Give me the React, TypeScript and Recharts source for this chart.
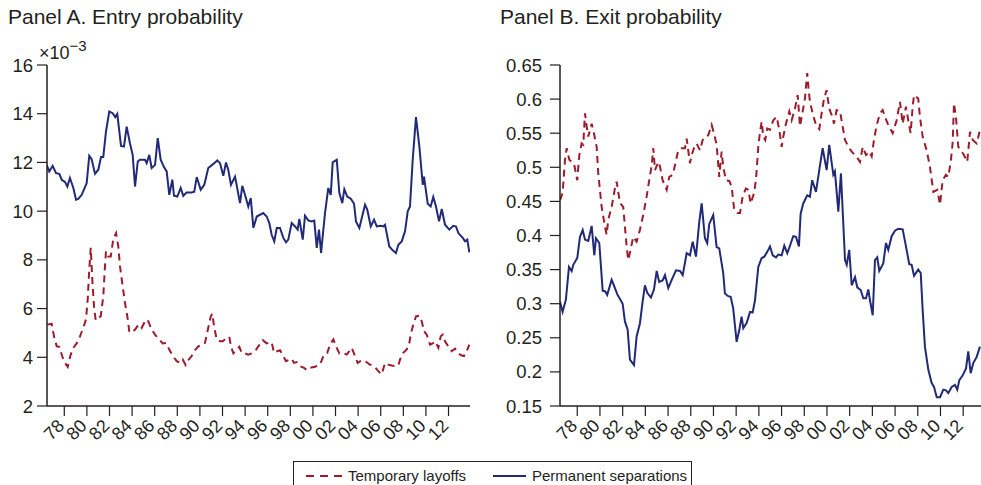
import React from "react"
import { Line, LineChart, XAxis, YAxis } from "recharts"

// year ticks shared by both panels
const yearTicks = [1978, 1980, 1982, 1984, 1986, 1988, 1990, 1992, 1994, 1996, 1998, 2000, 2002, 2004, 2006, 2008, 2010, 2012]
const entryTicks = [2, 4, 6, 8, 10, 12, 14, 16]
const exitTicks = [0.15, 0.2, 0.25, 0.3, 0.35, 0.4, 0.45, 0.5, 0.55, 0.6, 0.65]

// Panel A, entry probability (x 10^-3): [year, value]
const entryPermanent: [number, number][] = [
    [1976.44, 11.9], [1976.67, 11.63], [1976.97, 11.86], [1977.27, 11.56], [1977.56, 11.53], [1977.77, 11.29],
    [1978.06, 11.2], [1978.27, 11.01], [1978.5, 11.36], [1978.8, 10.95], [1979.04, 10.47], [1979.24, 10.5],
    [1979.54, 10.67], [1979.98, 11.15], [1980.21, 12.27], [1980.42, 12.13], [1980.72, 11.53], [1981.01, 11.7],
    [1981.25, 12.22], [1981.45, 12.22], [1981.69, 13.27], [1981.98, 14.09], [1982.28, 14.02], [1982.51, 13.86],
    [1982.69, 13.99], [1983.02, 12.68], [1983.28, 12.65], [1983.52, 13.47], [1983.81, 12.79], [1984.05, 12.31],
    [1984.26, 11.01], [1984.5, 12.04], [1984.7, 12.11], [1985.14, 12.11], [1985.29, 11.97], [1985.52, 12.31],
    [1985.73, 11.77], [1986.03, 11.9], [1986.27, 13.0], [1986.53, 12.11], [1986.82, 11.81], [1987.06, 11.63],
    [1987.29, 10.67], [1987.56, 11.29], [1987.71, 10.63], [1988.0, 10.6], [1988.3, 10.95], [1988.53, 10.63],
    [1988.83, 10.77], [1989.27, 10.77], [1989.5, 10.8], [1989.72, 11.4], [1990.07, 10.88], [1990.39, 11.08],
    [1990.74, 11.77], [1991.19, 11.94], [1991.54, 12.08], [1991.78, 11.97], [1992.07, 11.45], [1992.31, 12.0],
    [1992.51, 11.7], [1992.75, 11.08], [1993.11, 11.42], [1993.55, 10.33], [1993.75, 11.04], [1993.99, 10.67],
    [1994.28, 10.19], [1994.5, 10.54], [1994.73, 9.31], [1995.03, 9.78], [1995.61, 9.92], [1995.91, 9.78],
    [1996.14, 9.51], [1996.35, 9.03], [1996.58, 8.76], [1996.8, 9.31], [1997.09, 9.31], [1997.38, 8.9],
    [1997.62, 8.72], [1997.82, 8.83], [1998.12, 9.51], [1998.42, 9.37], [1998.65, 9.24], [1998.8, 9.68],
    [1999.1, 8.83], [1999.3, 9.81], [1999.59, 9.62], [1999.89, 9.58], [2000.12, 9.61], [2000.34, 8.49],
    [2000.54, 9.24], [2000.72, 8.28], [2001.07, 9.92], [2001.36, 10.95], [2001.58, 10.67], [2001.75, 12.0],
    [2002.11, 12.11], [2002.34, 10.74], [2002.6, 10.33], [2002.78, 10.9], [2003.04, 10.6], [2003.37, 10.5],
    [2003.64, 10.3], [2003.81, 9.58], [2004.11, 9.31], [2004.61, 10.26], [2004.81, 10.06], [2005.12, 9.37],
    [2005.41, 9.65], [2005.65, 9.37], [2006.0, 9.4], [2006.23, 9.37], [2006.38, 9.44], [2006.76, 8.55],
    [2007.06, 8.39], [2007.35, 8.28], [2007.56, 8.62], [2007.86, 8.76], [2008.15, 9.17], [2008.39, 9.99],
    [2008.59, 10.19], [2008.83, 12.11], [2009.12, 13.86], [2009.42, 12.65], [2009.72, 11.08], [2009.83, 11.42],
    [2010.16, 10.3], [2010.42, 10.19], [2010.65, 10.58], [2010.89, 10.19], [2011.16, 9.58], [2011.4, 10.09],
    [2011.69, 9.44], [2012.07, 9.24], [2012.42, 9.4], [2012.66, 9.37], [2012.87, 9.1], [2013.26, 8.9],
    [2013.46, 8.76], [2013.66, 8.83], [2013.84, 8.31],
]

const entryTemporary: [number, number][] = [
    [1976.5, 5.34], [1976.88, 5.38], [1977.09, 4.86], [1977.33, 4.45], [1977.56, 4.43], [1977.86, 3.98],
    [1978.06, 3.77], [1978.3, 3.61], [1978.57, 4.11], [1978.8, 4.39], [1979.1, 4.57], [1979.39, 4.86],
    [1979.68, 5.21], [1979.92, 5.55], [1980.07, 6.37], [1980.21, 7.6], [1980.34, 8.49], [1980.48, 7.19],
    [1980.63, 6.09], [1980.78, 5.52], [1981.01, 5.62], [1981.22, 5.68], [1981.45, 6.5], [1981.6, 7.73],
    [1981.69, 8.35], [1981.89, 8.14], [1982.11, 8.14], [1982.34, 8.86], [1982.58, 9.1], [1982.78, 8.55],
    [1982.93, 7.73], [1983.17, 6.91], [1983.37, 6.23], [1983.58, 5.68], [1983.75, 5.07], [1983.96, 5.0],
    [1984.26, 5.14], [1984.46, 5.27], [1984.7, 5.34], [1984.85, 5.21], [1985.23, 5.55], [1985.43, 5.48],
    [1985.73, 5.14], [1986.03, 4.93], [1986.41, 4.73], [1986.71, 4.57], [1987.0, 4.59], [1987.29, 4.32],
    [1987.59, 4.07], [1987.95, 3.84], [1988.24, 3.77], [1988.48, 3.91], [1988.74, 3.68], [1988.97, 3.88],
    [1989.27, 4.05], [1989.48, 4.25], [1989.86, 4.45], [1990.16, 4.5], [1990.45, 4.59], [1990.74, 5.21],
    [1990.96, 5.68], [1991.1, 5.79], [1991.25, 5.27], [1991.49, 4.73], [1991.78, 4.66], [1992.02, 4.66],
    [1992.37, 4.8], [1992.6, 4.84], [1992.75, 4.45], [1992.96, 4.16], [1993.26, 4.32], [1993.49, 4.43],
    [1993.7, 4.18], [1993.99, 4.16], [1994.28, 4.11], [1994.58, 4.16], [1994.88, 4.25], [1995.17, 4.45],
    [1995.56, 4.7], [1995.91, 4.57], [1996.35, 4.62], [1996.56, 4.18], [1996.85, 4.25], [1997.09, 4.29],
    [1997.38, 4.05], [1997.62, 3.84], [1998.12, 3.94], [1998.33, 3.77], [1998.57, 3.8], [1998.8, 3.64],
    [1999.21, 3.57], [1999.45, 3.47], [1999.74, 3.57], [2000.19, 3.61], [2000.63, 3.7], [2000.98, 4.11],
    [2001.27, 4.18], [2001.51, 4.52], [2001.81, 4.73], [2002.04, 4.45], [2002.34, 4.16], [2002.69, 4.18],
    [2002.99, 4.11], [2003.22, 4.25], [2003.43, 4.39], [2003.73, 4.05], [2003.96, 3.77], [2004.32, 3.88],
    [2004.61, 3.84], [2005.05, 3.7], [2005.41, 3.64], [2005.79, 3.43], [2006.09, 3.3], [2006.38, 3.77],
    [2006.67, 3.7], [2006.97, 3.66], [2007.27, 3.64], [2007.56, 3.66], [2007.71, 3.91], [2008.0, 4.18],
    [2008.3, 4.32], [2008.53, 4.59], [2008.68, 5.0], [2008.89, 5.34], [2009.12, 5.68], [2009.42, 5.71],
    [2009.63, 5.48], [2009.83, 5.07], [2010.07, 4.93], [2010.36, 4.52], [2010.6, 4.57], [2010.81, 4.66],
    [2011.1, 4.39], [2011.31, 4.86], [2011.49, 4.93], [2011.69, 4.66], [2011.98, 4.45], [2012.28, 4.25],
    [2012.58, 4.35], [2012.87, 4.16], [2013.17, 4.07], [2013.37, 4.05], [2013.61, 4.25], [2013.84, 4.52],
]

// Panel B, exit probability: [year, value]
const exitPermanent: [number, number][] = [
    [1976.48, 0.303], [1976.71, 0.288], [1977.0, 0.306], [1977.27, 0.354], [1977.51, 0.348], [1977.65, 0.357],
    [1978.0, 0.367], [1978.24, 0.398], [1978.48, 0.408], [1978.68, 0.394], [1978.97, 0.392], [1979.27, 0.414],
    [1979.5, 0.371], [1979.65, 0.396], [1979.94, 0.389], [1980.24, 0.319], [1980.47, 0.318], [1980.64, 0.313],
    [1981.03, 0.335], [1981.23, 0.327], [1981.52, 0.314], [1982.0, 0.3], [1982.2, 0.274], [1982.44, 0.262],
    [1982.64, 0.218], [1983.0, 0.21], [1983.23, 0.252], [1983.52, 0.271], [1983.76, 0.303], [1983.96, 0.327],
    [1984.17, 0.316], [1984.49, 0.309], [1984.76, 0.321], [1985.0, 0.348], [1985.22, 0.332], [1985.52, 0.334],
    [1985.73, 0.342], [1986.02, 0.323], [1986.32, 0.335], [1986.7, 0.349], [1987.05, 0.348], [1987.29, 0.342],
    [1987.64, 0.374], [1987.93, 0.371], [1988.17, 0.391], [1988.46, 0.369], [1988.75, 0.42], [1988.96, 0.447],
    [1989.25, 0.396], [1989.45, 0.389], [1989.63, 0.417], [1989.98, 0.43], [1990.28, 0.383], [1990.51, 0.381],
    [1990.86, 0.345], [1991.01, 0.315], [1991.3, 0.311], [1991.52, 0.31], [1991.74, 0.293], [1992.04, 0.244],
    [1992.27, 0.261], [1992.48, 0.281], [1992.63, 0.264], [1992.93, 0.272], [1993.22, 0.288], [1993.45, 0.287],
    [1993.66, 0.305], [1993.95, 0.354], [1994.25, 0.367], [1994.48, 0.369], [1994.74, 0.376], [1994.98, 0.384],
    [1995.22, 0.371], [1995.51, 0.368], [1995.71, 0.372], [1996.01, 0.371], [1996.24, 0.385], [1996.5, 0.374],
    [1996.74, 0.385], [1997.03, 0.399], [1997.27, 0.398], [1997.53, 0.384], [1997.68, 0.432], [1997.91, 0.447],
    [1998.26, 0.459], [1998.5, 0.457], [1998.7, 0.481], [1999.03, 0.464], [1999.32, 0.496], [1999.62, 0.528],
    [1999.97, 0.496], [2000.2, 0.533], [2000.56, 0.489], [2000.7, 0.494], [2001.0, 0.435], [2001.23, 0.491],
    [2001.59, 0.364], [2001.74, 0.357], [2001.96, 0.379], [2002.18, 0.327], [2002.47, 0.339], [2002.67, 0.324],
    [2002.97, 0.32], [2003.2, 0.308], [2003.44, 0.308], [2003.64, 0.321], [2003.79, 0.305], [2004.03, 0.283],
    [2004.23, 0.364], [2004.43, 0.368], [2004.61, 0.348], [2004.96, 0.359], [2005.2, 0.389], [2005.4, 0.379],
    [2005.7, 0.399], [2005.99, 0.407], [2006.28, 0.41], [2006.67, 0.409], [2006.96, 0.384], [2007.25, 0.358],
    [2007.46, 0.357], [2007.67, 0.341], [2008.04, 0.35], [2008.26, 0.345], [2008.43, 0.291], [2008.63, 0.237],
    [2008.93, 0.203], [2009.22, 0.184], [2009.43, 0.178], [2009.67, 0.163], [2009.96, 0.163], [2010.25, 0.174],
    [2010.48, 0.173], [2010.69, 0.169], [2010.99, 0.178], [2011.28, 0.181], [2011.48, 0.174], [2011.66, 0.188],
    [2011.96, 0.195], [2012.25, 0.205], [2012.45, 0.23], [2012.66, 0.198], [2012.89, 0.213], [2013.19, 0.222],
    [2013.48, 0.237],
]

const exitTemporary: [number, number][] = [
    [1976.48, 0.452], [1976.71, 0.462], [1976.92, 0.511], [1977.07, 0.528], [1977.3, 0.511], [1977.51, 0.508],
    [1977.71, 0.506], [1978.0, 0.481], [1978.18, 0.518], [1978.39, 0.535], [1978.53, 0.533], [1978.68, 0.579],
    [1978.83, 0.56], [1978.97, 0.545], [1979.27, 0.564], [1979.47, 0.55], [1979.71, 0.53], [1979.85, 0.491],
    [1980.15, 0.442], [1980.44, 0.413], [1980.59, 0.401], [1980.73, 0.423], [1981.03, 0.442], [1981.32, 0.469],
    [1981.47, 0.479], [1981.76, 0.448], [1982.05, 0.442], [1982.2, 0.413], [1982.35, 0.384], [1982.49, 0.364],
    [1982.7, 0.379], [1982.93, 0.398], [1983.23, 0.391], [1983.52, 0.408], [1983.81, 0.43], [1984.11, 0.457],
    [1984.34, 0.481], [1984.56, 0.503], [1984.7, 0.528], [1984.85, 0.496], [1985.14, 0.508], [1985.29, 0.501],
    [1985.52, 0.481], [1985.88, 0.467], [1986.11, 0.486], [1986.41, 0.489], [1986.61, 0.503], [1986.9, 0.525],
    [1987.2, 0.528], [1987.49, 0.528], [1987.64, 0.542], [1987.93, 0.506], [1988.08, 0.518], [1988.28, 0.528],
    [1988.52, 0.535], [1988.81, 0.525], [1989.05, 0.54], [1989.25, 0.545], [1989.54, 0.547], [1989.84, 0.562],
    [1990.04, 0.55], [1990.28, 0.533], [1990.51, 0.486], [1990.72, 0.523], [1990.86, 0.501], [1991.1, 0.481],
    [1991.39, 0.48], [1991.6, 0.472], [1991.81, 0.44], [1992.1, 0.433], [1992.34, 0.433], [1992.57, 0.457],
    [1992.86, 0.469], [1993.07, 0.467], [1993.28, 0.447], [1993.57, 0.462], [1993.74, 0.481], [1993.95, 0.53],
    [1994.1, 0.552], [1994.25, 0.567], [1994.39, 0.545], [1994.56, 0.54], [1994.74, 0.557], [1994.98, 0.555],
    [1995.27, 0.569], [1995.57, 0.574], [1995.8, 0.555], [1996.01, 0.53], [1996.15, 0.545], [1996.39, 0.564],
    [1996.68, 0.582], [1996.89, 0.569], [1997.18, 0.586], [1997.42, 0.606], [1997.62, 0.56], [1997.86, 0.582],
    [1998.06, 0.601], [1998.26, 0.638], [1998.39, 0.613], [1998.5, 0.596], [1998.74, 0.579], [1999.03, 0.562],
    [1999.32, 0.556], [1999.53, 0.579], [1999.74, 0.601], [1999.97, 0.613], [2000.2, 0.586], [2000.41, 0.577],
    [2000.62, 0.564], [2000.85, 0.584], [2001.15, 0.582], [2001.38, 0.56], [2001.59, 0.54], [2001.88, 0.53],
    [2002.18, 0.523], [2002.62, 0.515], [2002.91, 0.508], [2003.15, 0.53], [2003.44, 0.518], [2003.73, 0.523],
    [2003.94, 0.516], [2004.14, 0.54], [2004.38, 0.562], [2004.67, 0.579], [2004.91, 0.584], [2005.11, 0.574],
    [2005.4, 0.562], [2005.79, 0.55], [2006.14, 0.569], [2006.43, 0.596], [2006.67, 0.564], [2006.96, 0.589],
    [2007.16, 0.569], [2007.37, 0.55], [2007.55, 0.589], [2007.67, 0.606], [2008.04, 0.601], [2008.19, 0.574],
    [2008.43, 0.545], [2008.78, 0.525], [2009.07, 0.501], [2009.37, 0.464], [2009.72, 0.467], [2009.96, 0.445],
    [2010.19, 0.481], [2010.48, 0.489], [2010.69, 0.486], [2010.9, 0.508], [2011.07, 0.535], [2011.19, 0.594],
    [2011.37, 0.572], [2011.57, 0.53], [2011.78, 0.525], [2012.07, 0.518], [2012.36, 0.508], [2012.6, 0.552],
    [2012.84, 0.54], [2013.19, 0.535], [2013.48, 0.555],
]

const RED = "#9e1b2c"
const NAVY = "#222a78"
const INK = "#231f20"
const FONT = "'Liberation Sans', Arial, Helvetica, sans-serif"

const toRows = (pairs: [number, number][]) => pairs.map(([year, v]) => ({ year, v }))

const yearLabel = (y: number) => String(y % 100).padStart(2, "0")

function YearTick({ x, y, payload }: any) {
    return (
        <g transform={`translate(${x + 1},${y + 9})`}>
            <text x={0} y={0} textAnchor="end" transform="rotate(-45)" fill={INK} fontSize={18} fontFamily={FONT}>
                {yearLabel(payload.value)}
            </text>
        </g>
    )
}

type PanelProps = {
    left: number
    width: number
    yWidth: number
    rightPad: number
    xDomain: [number, number]
    yDomain: [number, number]
    yTicks: number[]
    tickMargin: number
    temporary: [number, number][]
    permanent: [number, number][]
}

function Panel({ left, width, yWidth, rightPad, xDomain, yDomain, yTicks, tickMargin, temporary, permanent }: PanelProps) {
    return (
        <div style={{ position: "absolute", left, top: 0 }}>
            <LineChart width={width} height={485} margin={{ top: 65, right: rightPad, bottom: 0, left: 0 }}>
                <XAxis
                    dataKey="year"
                    type="number"
                    domain={xDomain}
                    allowDataOverflow
                    ticks={yearTicks}
                    interval={0}
                    height={79}
                    tickSize={10}
                    tick={<YearTick />}
                    axisLine={{ stroke: INK, strokeWidth: 1.5 }}
                    tickLine={{ stroke: INK, strokeWidth: 1.2 }}
                />
                <YAxis
                    type="number"
                    domain={yDomain}
                    ticks={yTicks}
                    interval={0}
                    width={yWidth}
                    tickSize={10}
                    tickMargin={tickMargin}
                    tickFormatter={(v: number) => String(v)}
                    tick={{ fill: INK, fontSize: 18.5, fontFamily: FONT }}
                    axisLine={{ stroke: INK, strokeWidth: 1.5 }}
                    tickLine={{ stroke: INK, strokeWidth: 1.2 }}
                />
                <Line
                    data={toRows(permanent)}
                    dataKey="v"
                    type="linear"
                    stroke={NAVY}
                    strokeWidth={2}
                    dot={false}
                    isAnimationActive={false}
                />
                <Line
                    data={toRows(temporary)}
                    dataKey="v"
                    type="linear"
                    stroke={RED}
                    strokeWidth={2}
                    strokeDasharray="7 5"
                    dot={false}
                    isAnimationActive={false}
                />
            </LineChart>
        </div>
    )
}

export default function App() {
    return (
        <div style={{ position: "absolute", left: 0, top: 0, width: 981, height: 485, background: "#fff", overflow: "hidden", fontFamily: FONT, color: INK }}>
            <div style={{ position: "absolute", left: 8, top: 5, fontSize: 21, whiteSpace: "nowrap" }}>Panel A. Entry probability</div>
            <div style={{ position: "absolute", left: 500, top: 5, fontSize: 21, whiteSpace: "nowrap" }}>Panel B. Exit probability</div>
            <div style={{ position: "absolute", left: 39, top: 38, fontSize: 18, whiteSpace: "nowrap" }}>
                ×10<sup style={{ fontSize: 15, position: "relative", top: -1 }}>−3</sup>
            </div>

            <Panel
                left={0}
                width={490}
                yWidth={47}
                rightPad={20}
                xDomain={[1976.47, 2013.9]}
                yDomain={[2, 16]}
                yTicks={entryTicks}
                tickMargin={4}
                temporary={entryTemporary}
                permanent={entryPermanent}
            />
            <Panel
                left={490}
                width={491}
                yWidth={70}
                rightPad={0}
                xDomain={[1976.48, 2013.57]}
                yDomain={[0.15, 0.65]}
                yTicks={exitTicks}
                tickMargin={8}
                temporary={exitTemporary}
                permanent={exitPermanent}
            />

            <div style={{ position: "absolute", left: 293, top: 461, width: 399, height: 30, border: "1px solid #222", boxSizing: "border-box", background: "#fff", fontSize: 15, whiteSpace: "nowrap" }}>
                <svg width={40} height={20} style={{ position: "absolute", left: 10, top: 4 }}>
                    <line x1={2} y1={10} x2={38} y2={10} stroke={RED} strokeWidth={2} strokeDasharray="8 6" />
                </svg>
                <span style={{ position: "absolute", left: 54, top: 5 }}>Temporary layoffs</span>
                <svg width={36} height={20} style={{ position: "absolute", left: 198, top: 4 }}>
                    <line x1={1} y1={10} x2={34} y2={10} stroke={NAVY} strokeWidth={2} />
                </svg>
                <span style={{ position: "absolute", left: 238, top: 5 }}>Permanent separations</span>
            </div>
        </div>
    )
}
